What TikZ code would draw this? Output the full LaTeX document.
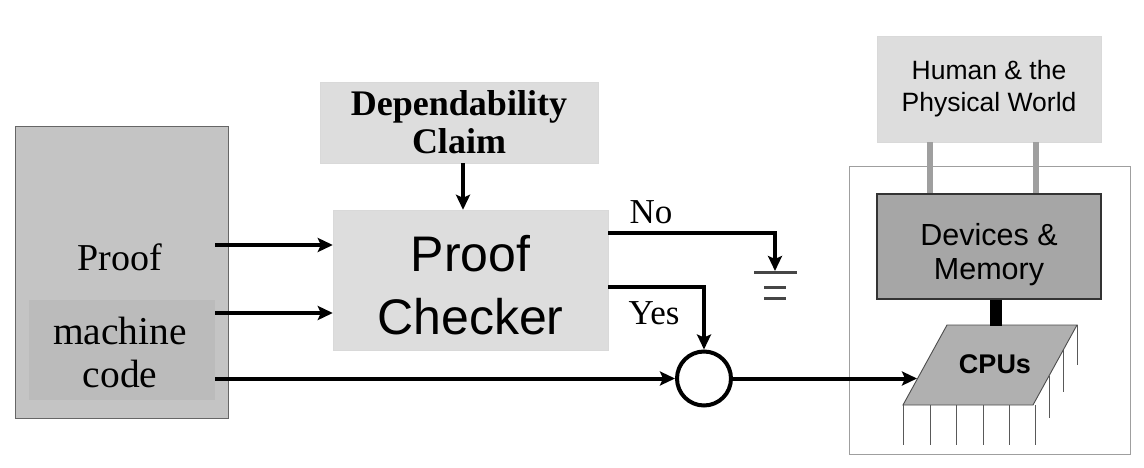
\documentclass[tikz,border=0pt]{standalone}
\usepackage{fontspec}
\setmainfont{Liberation Serif}
\setsansfont{Liberation Sans}
\usetikzlibrary{arrows.meta}
\definecolor{leftfill}{gray}{0.77}
\definecolor{innerfill}{gray}{0.735}
\definecolor{lightfill}{gray}{0.865}
\definecolor{devfill}{gray}{0.65}
\definecolor{cpufill}{gray}{0.69}
\begin{document}
\begin{tikzpicture}[x=1pt,y=-1pt,
  arr/.style={line width=4pt,-{Stealth[length=15pt,width=14pt,inset=3pt]}},
  boxx/.style={rectangle,inner sep=0pt,align=center},
  pin/.style={line width=0.9pt,gray!70!black}]
\useasboundingbox[fill=white] (0,0) rectangle (1144,468);
% left box
\node[boxx,draw=gray!80!black,line width=1pt,fill=leftfill,minimum width=213pt,minimum height=291pt] (left) at (121.5,272.5) {};
\node[boxx,fill=innerfill,minimum width=186pt,minimum height=100pt] (inner) at (122,350) {};
\node[font=\fontsize{38}{38}\selectfont] (prooftxt) at (120,257) {Proof};
\node[font=\fontsize{39.5}{43}\selectfont,align=center] (mctxt) at (120,352) {machine\\code};
% dependability claim
\node[boxx,fill=lightfill,draw=gray!30,minimum width=278pt,minimum height=81pt,font=\bfseries\fontsize{36}{38}\selectfont] (dep) at (459,122.5) {Dependability\\Claim};
% proof checker
\node[boxx,fill=lightfill,draw=gray!30,minimum width=275pt,minimum height=140pt] (pc) at (470.5,280) {};
\node[font=\sffamily\fontsize{50}{63}\selectfont,align=center] (pctxt) at (470.5,285) {Proof\\Checker};
% circle
\node[circle,draw,line width=4pt,minimum size=54pt,inner sep=0pt] (circ) at (704,378.5) {};
% right side
\node[boxx,draw=gray!75,line width=0.9pt,minimum width=281pt,minimum height=288pt] (outer) at (989.5,310) {};
\node[boxx,fill=lightfill,draw=gray!30,minimum width=224pt,minimum height=106pt,font=\sffamily\fontsize{26.5}{32}\selectfont] (human) at (989,89) {Human \& the\\Physical World};
\node[boxx,fill=devfill,draw=black!80,line width=1.4pt,minimum width=224pt,minimum height=105pt] (dev) at (989,246.5) {};
\node[font=\sffamily\fontsize{30.5}{34}\selectfont,align=center] (devtxt) at (989,255) {Devices \&\\Memory};
% CPU chip
\coordinate (c1) at (947,325);
\coordinate (c2) at (1077,325);
\coordinate (c3) at (1033,405);
\coordinate (c4) at (903,405);
\foreach \x in {903,930,956,983,1009,1035} \draw[pin] (\x,405) -- (\x,445);
\draw[pin] (1049,376) -- (1049,418);
\draw[pin] (1063,350) -- (1063,392);
\draw[pin] (1077,325) -- (1077,365);
\draw[fill=cpufill,draw=gray!60!black,line width=0.9pt] (c1) -- (c2) -- (c3) -- (c4) -- cycle;
\node[font=\sffamily\bfseries\fontsize{27}{27}\selectfont] (cpu) at (995,364) {CPUs};
\coordinate (cpuin) at (917,378.5);
% connectors
\draw[line width=6pt,gray!75] (human.south -| 930,0) -- (dev.north -| 930,0);
\draw[line width=6pt,gray!75] (human.south -| 1036,0) -- (dev.north -| 1036,0);
\draw[line width=12pt,black] (dev.south -| 996,0) -- (996,326);
\draw[arr] (inner.east |- 0,245) -- (pc.west |- 0,245);
\draw[arr] (inner.east |- 0,313) -- (pc.west |- 0,313);
\draw[arr] (inner.east |- circ.west) -- (circ.west);
\draw[arr] (dep.south -| 463,0) -- (pc.north -| 463,0);
\coordinate (gnd) at (775,271);
\draw[arr] (pc.east |- 0,233) -| (gnd);
\draw[arr] (pc.east |- 0,287) -| (circ.north);
\draw[arr] (circ.east) -- (cpuin);
% ground
\draw[line width=3pt,gray!55!black] (754,272) -- (797,272);
\draw[line width=3pt,gray!55!black] (764,287) -- (786,287);
\draw[line width=3pt,gray!55!black] (764,298) -- (786,298);
% labels
\node[font=\fontsize{35}{35}\selectfont] (no) at (651,212) {No};
\node[font=\fontsize{35}{35}\selectfont] (yes) at (654,313) {Yes};
\end{tikzpicture}
\end{document}
